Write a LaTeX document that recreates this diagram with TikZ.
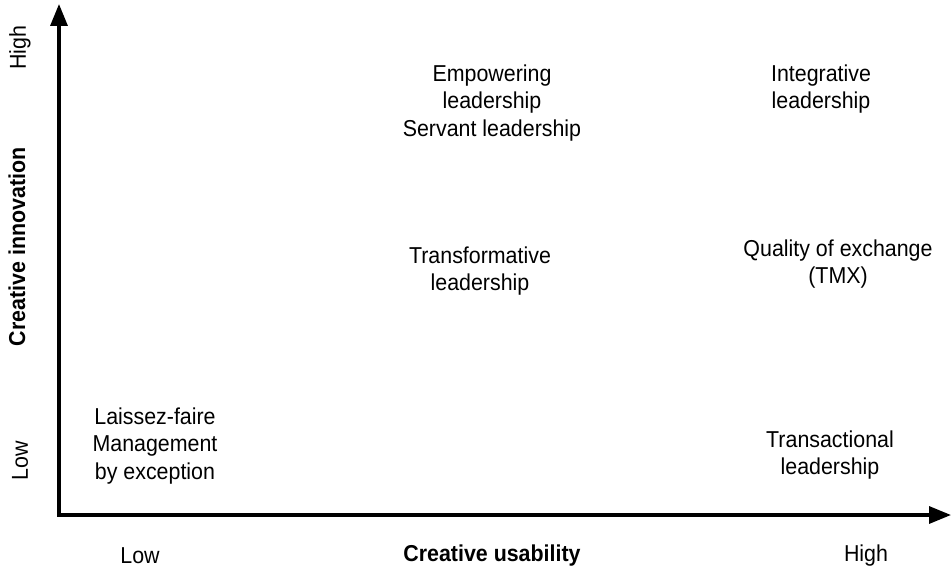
\documentclass[tikz,border=0pt]{standalone}
\usepackage{fontspec}
\setmainfont[FakeStretch=0.93]{Liberation Sans}
\usetikzlibrary{arrows.meta}
\begin{document}
\begin{tikzpicture}[x=1pt,y=-1pt,
  lbl/.style={align=center,font=\fontsize{23}{27.5}\selectfont,inner sep=0pt},
  axis/.style={line width=3.3pt,-{Triangle[length=22pt,width=17pt]}}]
\useasboundingbox (0,0) rectangle (952,572);
\coordinate (o) at (59,515);
\coordinate (ytop) at (59,4);
\coordinate (xend) at (951,515);
\draw[axis] ([yshift=1.65pt]o) -- (ytop);
\draw[axis] ([xshift=-1.65pt]o) -- (xend);
\node[lbl] (emp) at (492,103) {Empowering\\leadership\\Servant leadership};
\node[lbl] (int) at (821,89) {Integrative\\leadership};
\node[lbl] (tra) at (480,271) {Transformative\\leadership};
\node[lbl] (qua) at (838,264) {Quality of exchange\\(TMX)};
\node[lbl] (lai) at (155,446) {Laissez-faire\\Management\\by exception};
\node[lbl] (tran) at (830,455) {Transactional\\leadership};
\node[lbl] (xlow) at (140,556) {Low};
\node[lbl,font=\fontsize{23}{27.5}\selectfont\bfseries] (xlab) at (492,556) {Creative usability};
\node[lbl] (xhigh) at (866,556) {High};
\node[lbl,rotate=90] (yhigh) at (20,48) {High};
\node[lbl,rotate=90,font=\fontsize{23}{27.5}\selectfont\bfseries] (ylab) at (17,247) {Creative innovation};
\node[lbl,rotate=90] (ylow) at (20,461) {Low};
\end{tikzpicture}
\end{document}
